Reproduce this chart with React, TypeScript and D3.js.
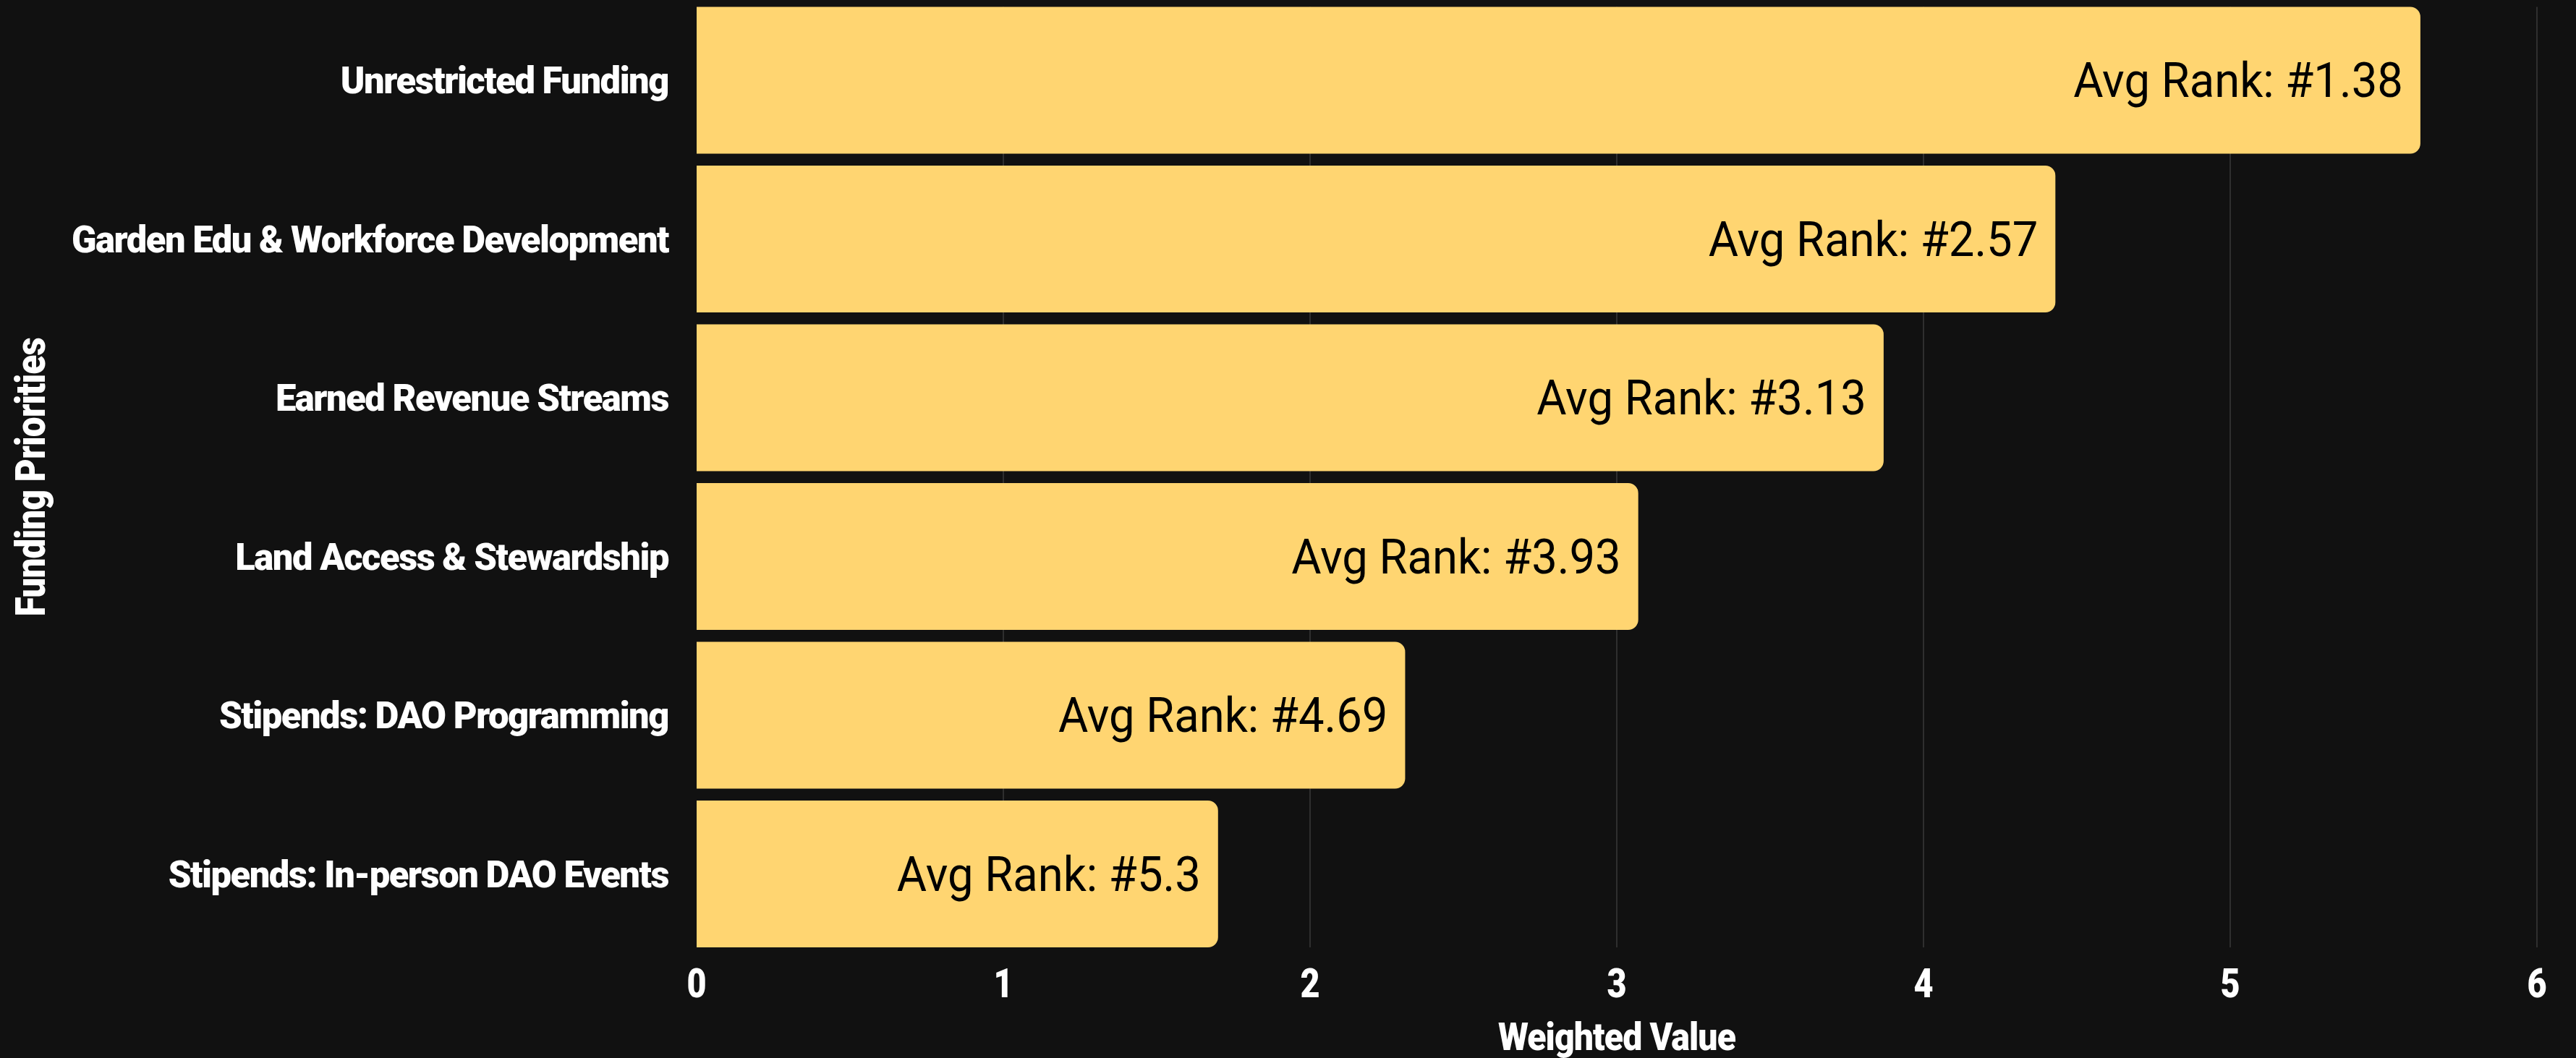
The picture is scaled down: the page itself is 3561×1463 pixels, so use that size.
import React from "react";
import * as d3 from "d3";

const categories = [
  "Unrestricted Funding",
  "Garden Edu & Workforce Development",
  "Earned Revenue Streams",
  "Land Access & Stewardship",
  "Stipends: DAO Programming",
  "Stipends: In-person DAO Events",
];
const weightedValues = [5.62, 4.43, 3.87, 3.07, 2.31, 1.7];
const avgRanks = ["1.38", "2.57", "3.13", "3.93", "4.69", "5.3"];
const xTicks = [0, 1, 2, 3, 4, 5, 6];
const xTitle = "Weighted Value";
const yTitle = "Funding Priorities";

const W = 3561;
const H = 1463;
const BG = "#111111";
const BAR = "#FFD571";
const GRID = "#3a3a3a";
const BOLD = "Roboto, 'Noto Sans', sans-serif";

function barPath(x0: number, x1: number, y0: number, y1: number, r: number) {
  const rr = Math.min(r, (x1 - x0) / 2, (y1 - y0) / 2);
  return `M${x0},${y0}H${x1 - rr}A${rr},${rr} 0 0 1 ${x1},${y0 + rr}V${y1 - rr}A${rr},${rr} 0 0 1 ${x1 - rr},${y1}H${x0}Z`;
}

export default function App() {
  const x = d3.scaleLinear().domain([0, 6]).range([963, 3507]);
  const y = d3
    .scaleBand<string>()
    .domain(categories)
    .range([9.5, 1310])
    .paddingInner(0.075)
    .paddingOuter(0);
  const bw = y.bandwidth();
  const [top, bottom] = y.range();

  return (
    <svg
      width={W}
      height={H}
      viewBox={`0 0 ${W} ${H}`}
      style={{ position: "absolute", left: 0, top: 0, display: "block" }}
    >
      <rect x={0} y={0} width={W} height={H} fill={BG} />
      {/* gridlines */}
      {xTicks
        .filter((t) => t > 0)
        .map((t) => (
          <line
            key={"g" + t}
            x1={x(t)}
            x2={x(t)}
            y1={top}
            y2={bottom}
            stroke={GRID}
            strokeWidth={1.5}
          />
        ))}
      {/* bars */}
      {categories.map((c, i) => {
        const y0 = y(c)!;
        return (
          <path
            key={"b" + i}
            d={barPath(x(0), x(weightedValues[i]), y0, y0 + bw, 14)}
            fill={BAR}
          />
        );
      })}
      {/* value labels */}
      {categories.map((c, i) => {
        const cy = y(c)! + bw / 2;
        return (
          <g
            key={"v" + i}
            transform={`translate(${x(weightedValues[i]) - 24},${cy}) scale(0.96,1)`}
          >
            <text
              textAnchor="end"
              dy="0.355em"
              fontFamily="Roboto, sans-serif"
              fontWeight={400}
              fontSize={66}
              fill="#000"
            >
              {`Avg Rank: #${avgRanks[i]}`}
            </text>
          </g>
        );
      })}
      {/* category labels */}
      {categories.map((c, i) => {
        const cy = y(c)! + bw / 2;
        return (
          <g key={"c" + i} transform={`translate(${x(0) - 39},${cy}) scale(0.975,1)`}>
            <text
              textAnchor="end"
              dy="0.355em"
              fontFamily={BOLD}
              fontWeight={900}
              fontSize={52}
              letterSpacing={-1.5}
              fill="#fff"
            >
              {c}
            </text>
          </g>
        );
      })}
      {/* x tick labels */}
      {xTicks.map((t) => (
        <g key={"t" + t} transform={`translate(${x(t)},1379) scale(0.85,1)`}>
          <text
            textAnchor="middle"
            fontFamily={BOLD}
            fontWeight={900}
            fontSize={55}
            fill="#fff"
          >
            {d3.format("d")(t)}
          </text>
        </g>
      ))}
      {/* x title */}
      <g transform={`translate(${(x(0) + x(6)) / 2},1452) scale(0.91,1)`}>
        <text
          textAnchor="middle"
          fontFamily={BOLD}
          fontWeight={900}
          fontSize={53}
          letterSpacing={-1}
          fill="#fff"
        >
          {xTitle}
        </text>
      </g>
      {/* y title */}
      <g transform={`translate(62,${(top + bottom) / 2}) rotate(-90) scale(0.87,1)`}>
        <text
          textAnchor="middle"
          fontFamily={BOLD}
          fontWeight={900}
          fontSize={57}
          letterSpacing={-1}
          fill="#fff"
        >
          {yTitle}
        </text>
      </g>
    </svg>
  );
}
